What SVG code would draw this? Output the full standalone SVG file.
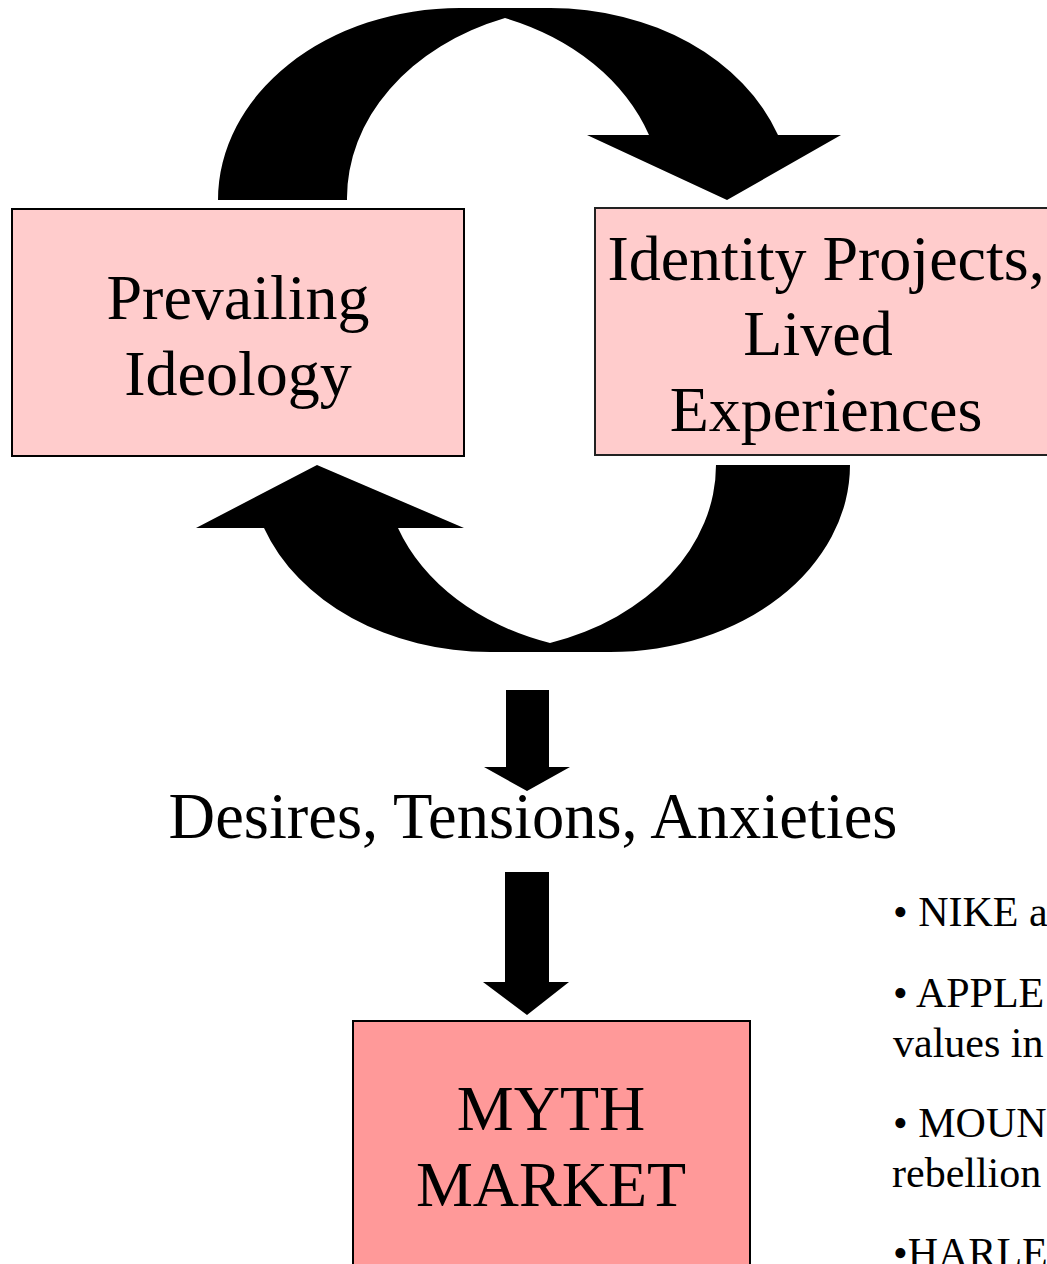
<svg xmlns="http://www.w3.org/2000/svg" width="1047" height="1264" viewBox="0 0 1047 1264">
  <style>
    .box { stroke: #000; stroke-width: 2; }
    .soft { fill: #FFCCCC; }
    .strong { fill: #FF9999; }
    .big { font-family: "Liberation Serif", "Times New Roman", serif; font-size: 64px; fill: #000; text-anchor: middle; }
    .list { font-family: "Liberation Serif", "Times New Roman", serif; font-size: 42px; fill: #000; }
    .arrow { fill: #000; stroke: none; }
  </style>

  <!-- connectors: curved cycle arrows and straight down arrows -->
  <g id="connectors">
    <!-- curved arrow from Prevailing Ideology over to Identity Projects -->
    <path class="arrow" d="M218,200 A242,192 0 0 1 460,8 L550,8 A242,192 0 0 1 778,135 L841,135 L727,200 L587,135 L649,135 A242,192 0 0 0 505,18 A242,192 0 0 0 347,200 Z"/>
    <!-- curved arrow from Identity Projects back under to Prevailing Ideology -->
    <path class="arrow" d="M850,465 A240,187 0 0 1 610,652 L490,652 A240,187 0 0 1 264,528 L196,528 L317,465 L464,528 L398,528 A240,187 0 0 0 550,643 A240,187 0 0 0 716,465 Z"/>
    <!-- block arrow down to the tensions label -->
    <path class="arrow" d="M506,690 L549,690 L549,767 L570,767 L527,791 L484,767 L506,767 Z"/>
    <!-- block arrow down to the myth market -->
    <path class="arrow" d="M505,872 L549,872 L549,982 L569,982 L527,1015 L483,982 L505,982 Z"/>
  </g>

  <g id="node-ideology">
    <rect class="box soft" x="12" y="209" width="452" height="247"/>
    <text class="big" x="238" y="319">Prevailing</text>
    <text class="big" x="238" y="395">Ideology</text>
  </g>

  <g id="node-identity">
    <rect class="box soft" x="595" y="208" width="460" height="247" style="stroke:#222"/>
    <text class="big" x="826" y="280">Identity Projects,</text>
    <text class="big" x="818" y="355">Lived</text>
    <text class="big" x="826" y="431">Experiences</text>
  </g>

  <g id="node-tensions">
    <text class="big" x="533" y="838" style="font-size:64.5px">Desires, Tensions, Anxieties</text>
  </g>

  <g id="node-myth">
    <rect class="box strong" x="353" y="1021" width="397" height="260"/>
    <text class="big" x="551" y="1130">MYTH</text>
    <text class="big" x="551" y="1206">MARKET</text>
  </g>

  <g id="node-examples">
    <text class="list" x="893" y="926">• NIKE a</text>
    <text class="list" x="893" y="1007">• APPLE</text>
    <text class="list" x="893" y="1057">values in</text>
    <text class="list" x="893" y="1137">• MOUN</text>
    <text class="list" x="892" y="1187">rebellion</text>
    <text class="list" x="893" y="1267">•HARLE</text>
  </g>
</svg>
